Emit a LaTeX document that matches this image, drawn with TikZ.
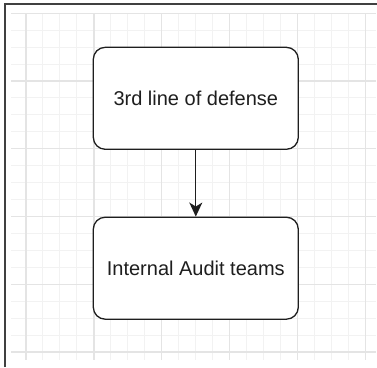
\documentclass[tikz,border=0pt]{standalone}
\usepackage{fontspec}
\setmainfont{Liberation Sans}
\usetikzlibrary{arrows.meta}
\definecolor{gridminor}{HTML}{F2F2F2}
\definecolor{gridmajor}{HTML}{E4E4E4}
\definecolor{ink}{HTML}{1E1E1E}
\tikzset{
  box/.style={draw=ink, line width=1.3pt, rounded corners=12pt, fill=white,
    minimum width=205pt, minimum height=102pt, inner sep=0pt,
    font=\fontsize{20}{24}\selectfont, text=ink},
  minorline/.style={draw=gridminor, line width=1pt},
  majorline/.style={draw=gridmajor, line width=1.2pt},
  frame/.style={draw=black!75, line width=1.5pt},
  link/.style={draw=ink, line width=1.3pt, -{Stealth[length=14pt,width=13pt,inset=4pt]}}
}
\begin{document}
\begin{tikzpicture}[x=1pt,y=-1pt]
\useasboundingbox (0,0) rectangle (377,367);
\fill[white] (0,0) rectangle (377,367);
% grid: minor lines
\foreach \k in {0,...,20} {
  \draw[minorline] ({26+\k*16.975},13.3) -- ({26+\k*16.975},360);
  \draw[minorline] (11,{13.3+\k*16.935}) -- (376,{13.3+\k*16.935});
}
% grid: major lines
\foreach \k in {0,4,...,20} {
  \draw[majorline] ({26+\k*16.975},13.3) -- ({26+\k*16.975},360);
  \draw[majorline] (11,{13.3+\k*16.935}) -- (376,{13.3+\k*16.935});
}
% outer frame (top and left edges)
\draw[frame] (5,367) -- (5,4) -- (377,4);
% nodes
\node[box] (top) at (195.8,98.3) {3rd line of defense};
\node[box] (bot) at (195.8,268.2) {Internal Audit teams};
\draw[link] (top) -- (bot);
\end{tikzpicture}
\end{document}
